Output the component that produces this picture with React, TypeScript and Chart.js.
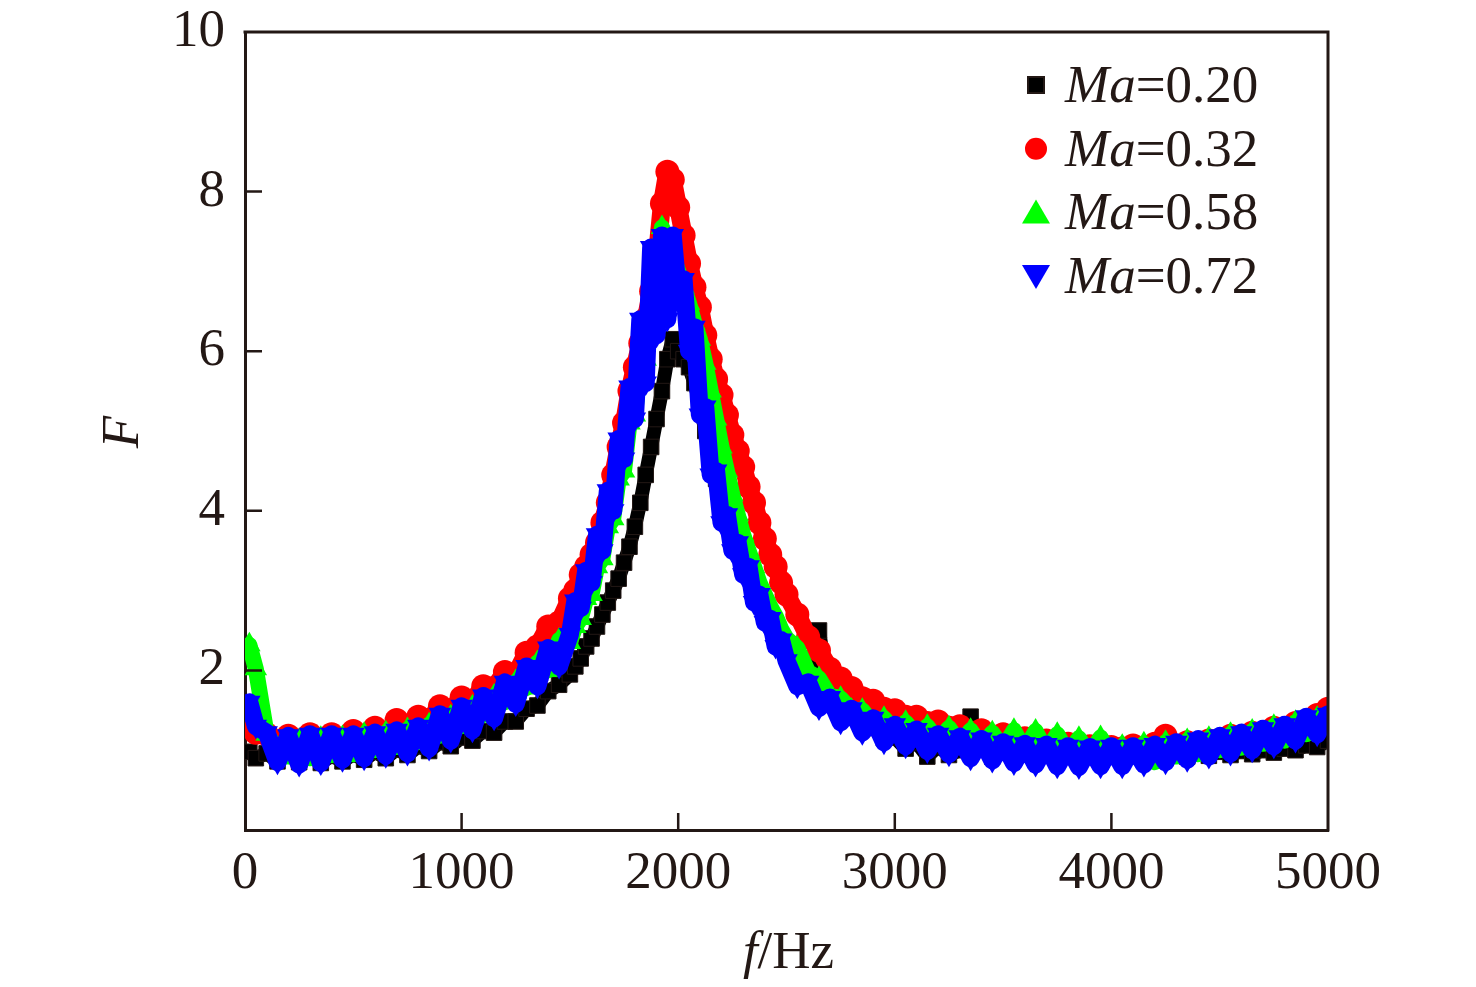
import { useEffect, useRef } from 'react';
import { Chart, registerables } from 'chart.js';

Chart.register(...registerables);

// frequency (Hz); denser sampling around the resonance peak
const freq = [
  20, 50, 100, 150, 200, 250, 300, 350, 400, 450, 500, 550, 600, 650, 700, 750, 800, 850, 900, 950,
  1000, 1050, 1100, 1150, 1200, 1250, 1300, 1350, 1400, 1450,
  1500, 1525, 1550, 1575, 1600, 1625, 1650, 1675, 1700, 1725, 1750, 1775, 1800, 1825, 1850, 1875,
  1900, 1925, 1950, 1975, 2000, 2025, 2050, 2075, 2100, 2125, 2150, 2175, 2200, 2225, 2250, 2275,
  2300, 2325, 2350, 2375, 2400, 2425, 2450, 2475, 2500,
  2550, 2600, 2650, 2700, 2750, 2800, 2850, 2900, 2950, 3000, 3050, 3100, 3150, 3200, 3250, 3300,
  3350, 3400, 3450, 3500, 3550, 3600, 3650, 3700, 3750, 3800, 3850, 3900, 3950, 4000, 4050, 4100,
  4150, 4200, 4250, 4300, 4350, 4400, 4450, 4500, 4550, 4600, 4650, 4700, 4750, 4800, 4850, 4900,
  4950, 5000,
];

// F, Ma = 0.20
const ma020 = [
  0.98, 0.9, 0.96, 0.86, 0.94, 0.85, 0.93, 0.84, 0.93, 0.86, 0.95, 0.88, 0.98, 0.9, 1.01, 0.94, 1.05, 0.99, 1.1, 1.05,
  1.16, 1.12, 1.24, 1.22, 1.36, 1.36, 1.52, 1.56, 1.74, 1.82,
  1.95, 2.05, 2.15, 2.3, 2.4, 2.55, 2.7, 2.85, 3.0, 3.15, 3.35, 3.55, 3.8, 4.1, 4.45, 4.8,
  5.15, 5.5, 5.9, 6.15, 6.0, 5.9, 5.8, 5.6, 5.35, 5.0, 4.65, 4.4, 4.1, 3.9, 3.7, 3.55,
  3.35, 3.2, 3.05, 2.9, 2.75, 2.62, 2.5, 2.38, 2.26,
  2.05, 1.82, 2.5, 1.62, 1.5, 1.44, 1.3, 1.28, 1.15, 1.16, 1.02, 1.1, 0.92, 1.05, 0.94, 1.0,
  1.42, 1.02, 0.92, 0.98, 0.9, 0.95, 0.88, 0.94, 0.87, 0.93, 0.86, 0.92, 0.86, 0.92, 0.87, 0.93,
  0.88, 0.94, 0.9, 0.96, 0.92, 0.97, 0.93, 0.98, 0.94, 0.99, 0.95, 1.0, 0.97, 1.02, 1.0, 1.06,
  1.04, 1.12,
];

// F, Ma = 0.32
const ma032 = [
  1.35, 1.22, 1.2, 1.05, 1.18, 1.12, 1.2, 1.08, 1.2, 1.12, 1.24, 1.15, 1.28, 1.2, 1.38, 1.28, 1.42, 1.38, 1.55, 1.5,
  1.66, 1.62, 1.8, 1.78, 1.98, 1.95, 2.22, 2.3, 2.55, 2.6,
  2.9, 3.0, 3.2, 3.3, 3.45, 3.6, 3.85, 4.1, 4.45, 4.8, 5.1, 5.5, 5.8, 6.1, 6.4, 6.75,
  7.15, 7.85, 8.25, 8.15, 7.8, 7.45, 7.1, 6.8, 6.55, 6.2, 5.9, 5.65, 5.45, 5.2, 4.95, 4.75,
  4.55, 4.3, 4.1, 3.85, 3.65, 3.45, 3.3, 3.1, 2.95,
  2.7, 2.42, 2.25, 2.02, 1.9, 1.78, 1.65, 1.62, 1.52, 1.5, 1.42, 1.42, 1.34, 1.36, 1.28, 1.3,
  1.22, 1.25, 1.16, 1.2, 1.1, 1.15, 1.06, 1.12, 1.02, 1.08, 0.98, 1.05, 0.96, 1.04, 1.02, 1.06,
  1.0, 1.08, 1.18, 1.04, 1.1, 1.06, 1.12, 1.1, 1.18, 1.14, 1.22, 1.2, 1.28, 1.25, 1.34, 1.32,
  1.44, 1.52,
];

// F, Ma = 0.58
const ma058 = [
  2.32, 2.02, 1.2, 1.02, 0.92, 1.12, 0.9, 1.15, 0.94, 1.16, 0.95, 1.2, 1.0, 1.22, 1.04, 1.26, 1.1, 1.32, 1.18, 1.42,
  1.3, 1.54, 1.44, 1.68, 1.6, 1.86, 1.78, 2.1, 2.0, 2.38,
  2.35, 2.55, 2.65, 2.9, 2.95, 3.3, 3.4, 3.8, 3.9, 4.4, 4.5, 5.1, 5.2, 5.8, 5.9, 6.7,
  6.9, 7.55, 7.4, 7.2, 7.0, 6.8, 6.6, 6.35, 6.15, 5.85, 5.5, 5.15, 4.8, 4.5, 4.2, 3.95,
  3.7, 3.5, 3.3, 3.1, 2.95, 2.8, 2.68, 2.52, 2.4,
  2.28, 1.98, 1.9, 1.68, 1.65, 1.5, 1.5, 1.33, 1.4, 1.24, 1.35, 1.18, 1.3, 1.12, 1.28, 1.08,
  1.25, 1.05, 1.22, 1.02, 1.25, 1.0, 1.24, 0.98, 1.2, 0.96, 1.15, 0.95, 1.16, 0.94, 1.05, 0.92,
  1.08, 0.85, 1.1, 0.92, 1.12, 0.95, 1.15, 1.0, 1.2, 1.03, 1.24, 1.08, 1.3, 1.12, 1.35, 1.2,
  1.4, 1.3,
];

// F, Ma = 0.72
const ma072 = [
  1.6, 1.3, 1.22, 0.85, 1.18, 0.82, 1.2, 0.84, 1.2, 0.88, 1.2, 0.9, 1.22, 0.93, 1.25, 0.96, 1.3, 1.02, 1.45, 1.12,
  1.55, 1.25, 1.68, 1.4, 1.85, 1.58, 2.05, 1.8, 2.28, 2.05,
  2.45, 2.87, 2.78, 3.25, 3.1, 3.7, 3.5, 4.25, 4.0, 4.9, 4.65, 5.55, 5.15, 6.4, 5.6, 7.3,
  6.2, 7.45, 6.4, 7.45, 6.7, 6.9, 6.0, 6.3, 5.2, 5.3, 4.45, 4.5, 3.85, 3.95, 3.5, 3.6,
  3.2, 3.3, 2.85, 2.95, 2.6, 2.65, 2.3, 2.38, 2.12,
  1.8, 1.85, 1.53, 1.66, 1.35, 1.52, 1.22, 1.4, 1.1, 1.32, 1.05, 1.26, 0.99, 1.2, 0.95, 1.17,
  0.9, 1.14, 0.87, 1.1, 0.84, 1.08, 0.82, 1.07, 0.8, 1.05, 0.79, 1.04, 0.8, 1.05, 0.8, 1.05,
  0.82, 1.07, 0.85, 1.1, 0.88, 1.14, 0.92, 1.18, 0.96, 1.22, 1.0, 1.27, 1.05, 1.32, 1.12, 1.42,
  1.2, 1.45,
];

const xTicks = [0, 1000, 2000, 3000, 4000, 5000];
const yTicks = [0, 2, 4, 6, 8, 10];
const machLabels = ['0.20', '0.32', '0.58', '0.72'];

const INK = '#231815';
const SERIF = '"Liberation Serif", "Times New Roman", serif';
const COLORS = ['#000000', '#ff0000', '#00ff00', '#0000ff'];

// small marker for the legend rows
function drawMarker(ctx: CanvasRenderingContext2D, kind: number, x: number, y: number) {
  ctx.fillStyle = COLORS[kind];
  ctx.beginPath();
  if (kind === 0) {
    ctx.rect(x - 8, y - 8, 16, 16);
    ctx.fill();
    ctx.strokeStyle = INK;
    ctx.lineWidth = 2;
    ctx.stroke();
    return;
  }
  if (kind === 1) {
    ctx.arc(x, y, 11, 0, Math.PI * 2);
  } else if (kind === 2) {
    ctx.moveTo(x, y - 13);
    ctx.lineTo(x + 14, y + 11);
    ctx.lineTo(x - 14, y + 11);
    ctx.closePath();
  } else {
    ctx.moveTo(x, y + 13);
    ctx.lineTo(x + 14, y - 11);
    ctx.lineTo(x - 14, y - 11);
    ctx.closePath();
  }
  ctx.fill();
}

const decorations = {
  id: 'decorations',
  afterDraw(chart: Chart) {
    const { ctx, chartArea: a } = chart;
    const xs = chart.scales.x;
    const ys = chart.scales.y;
    ctx.save();

    // frame top and right
    ctx.strokeStyle = INK;
    ctx.lineWidth = 3;
    ctx.beginPath();
    ctx.moveTo(a.left - 1.5, a.top);
    ctx.lineTo(a.right, a.top);
    ctx.lineTo(a.right, a.bottom + 1.5);
    ctx.stroke();

    // inward ticks
    ctx.lineWidth = 2.5;
    ctx.beginPath();
    xTicks.slice(1, -1).forEach((v) => {
      const px = xs.getPixelForValue(v);
      ctx.moveTo(px, a.bottom);
      ctx.lineTo(px, a.bottom - 17);
    });
    yTicks.slice(1, -1).forEach((v) => {
      const py = ys.getPixelForValue(v);
      ctx.moveTo(a.left, py);
      ctx.lineTo(a.left + 17, py);
    });
    ctx.stroke();

    // legend
    const mx = a.right - 292;
    machLabels.forEach((lab, i) => {
      const ry = a.top + 53 + i * 63.7;
      drawMarker(ctx, i, mx, ry);
      ctx.fillStyle = INK;
      ctx.textAlign = 'left';
      ctx.textBaseline = 'alphabetic';
      ctx.font = `italic 53px ${SERIF}`;
      const tx = mx + 29;
      ctx.fillText('Ma', tx, ry + 17);
      const w = ctx.measureText('Ma').width;
      ctx.font = `53px ${SERIF}`;
      ctx.fillText('=' + lab, tx + w, ry + 17);
    });

    // x title  f/Hz
    ctx.fillStyle = INK;
    ctx.font = `italic 53px ${SERIF}`;
    const fw = ctx.measureText('f').width;
    ctx.font = `53px ${SERIF}`;
    const hw = ctx.measureText('/Hz').width;
    const cx = (a.left + a.right) / 2 + 2;
    const start = cx - (fw + hw) / 2;
    ctx.textAlign = 'left';
    ctx.font = `italic 53px ${SERIF}`;
    ctx.fillText('f', start, 968);
    ctx.font = `53px ${SERIF}`;
    ctx.fillText('/Hz', start + fw, 968);

    // y title  F
    ctx.translate(138, (a.top + a.bottom) / 2 + 1);
    ctx.rotate(-Math.PI / 2);
    ctx.textAlign = 'center';
    ctx.font = `italic 53px ${SERIF}`;
    ctx.fillText('F', 0, 0);

    ctx.restore();
  },
};

export default function App() {
  const canvasRef = useRef<HTMLCanvasElement | null>(null);
  const chartRef = useRef<Chart | null>(null);

  useEffect(() => {
    document.body.style.margin = '0';
    if (!canvasRef.current) return;
    if (chartRef.current) chartRef.current.destroy();

    const series = [ma020, ma032, ma058, ma072];
    const styles = ['rect', 'circle', 'triangle', 'triangle'];
    const radii = [11, 12, 13, 13];
    const widths = [14, 18, 16, 18];

    chartRef.current = new Chart(canvasRef.current, {
      type: 'scatter',
      data: {
        datasets: series.map((vals, i) => ({
          label: 'Ma=' + machLabels[i],
          data: freq.map((f, k) => ({ x: f, y: vals[k] })),
          showLine: true,
          borderColor: COLORS[i],
          borderWidth: widths[i],
          borderJoinStyle: 'round' as const,
          borderCapStyle: 'round' as const,
          backgroundColor: COLORS[i],
          pointStyle: styles[i] as any,
          pointRotation: i === 3 ? 180 : 0,
          pointRadius: radii[i],
          pointBorderWidth: i === 0 ? 1 : 0,
          pointBorderColor: i === 0 ? INK : COLORS[i],
          pointBackgroundColor: COLORS[i],
          order: 4 - i,
          clip: 0,
        })),
      },
      options: {
        animation: false,
        responsive: true,
        maintainAspectRatio: false,
        layout: { padding: { left: 0, top: 32, right: 148, bottom: 0 } },
        plugins: {
          legend: { display: false },
          tooltip: { enabled: false },
        },
        scales: {
          x: {
            type: 'linear',
            min: 0,
            max: 5000,
            afterBuildTicks: (s: any) => {
              s.ticks = xTicks.map((v) => ({ value: v }));
            },
            afterFit: (s: any) => {
              s.height = 157;
              s.paddingLeft = 0;
              s.paddingRight = 0;
            },
            ticks: {
              color: INK,
              font: { family: SERIF, size: 53 },
              padding: 4,
              maxRotation: 0,
              callback: (v: any) => String(v),
            },
            grid: { display: false },
            border: { display: true, color: INK, width: 3 },
          },
          y: {
            min: 0,
            max: 10,
            afterBuildTicks: (s: any) => {
              s.ticks = yTicks.map((v) => ({ value: v }));
            },
            afterFit: (s: any) => {
              s.width = 245;
              s.paddingTop = 0;
              s.paddingBottom = 0;
            },
            ticks: {
              color: INK,
              font: { family: SERIF, size: 53 },
              padding: 12,
              callback: (v: any) => (v === 0 ? '' : String(v)),
            },
            grid: { display: false },
            border: { display: true, color: INK, width: 3 },
          },
        },
      },
      plugins: [decorations],
    });

    return () => {
      if (chartRef.current) {
        chartRef.current.destroy();
        chartRef.current = null;
      }
    };
  }, []);

  return (
    <div style={{ width: 1476, height: 987, background: '#fff', position: 'relative' }}>
      <canvas ref={canvasRef} />
    </div>
  );
}
